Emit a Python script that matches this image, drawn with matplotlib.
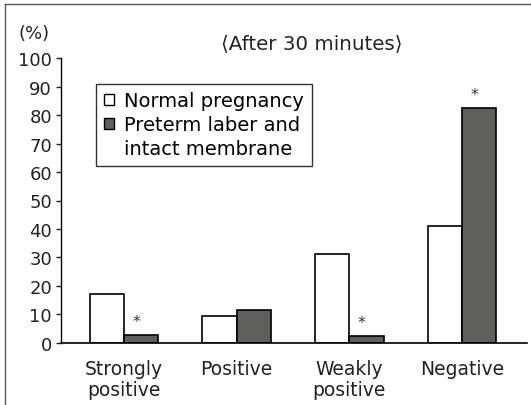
import matplotlib
matplotlib.use("Agg")
import matplotlib.pyplot as plt
from matplotlib.patches import Patch
from matplotlib.lines import Line2D
import numpy as np

categories = ["Strongly\npositive", "Positive", "Weakly\npositive", "Negative"]
normal = [17.0, 9.5, 31.3, 41.2]
preterm = [2.6, 11.5, 2.3, 82.5]
significant = [True, False, True, True]
series_labels = ["Normal pregnancy", "Preterm laber and", "intact membrane"]
yticks = [0, 10, 20, 30, 40, 50, 60, 70, 80, 90, 100]

plt.rcParams['font.family'] = ['DejaVu Sans', 'Noto Sans CJK SC']
FS = 13
dark = "#5f605d"

fig = plt.figure(figsize=(5.31, 4.06), dpi=100)
L, R = 61/531, 527/531
B, T = 1 - 343.7/406, 1 - 59.3/406
ax = fig.add_axes([L, B, R - L, T - B])

x = np.arange(len(categories))
w = 0.304
ax.bar(x - w/2, normal, width=w, color="white", edgecolor="black", linewidth=1.2)
ax.bar(x + w/2, preterm, width=w, color=dark, edgecolor="black", linewidth=1.2)

for xi, v, s in zip(x, preterm, significant):
    if s:
        ax.text(xi + w/2 - 0.04, v + 4.8, "*", ha="center", va="center", fontsize=11.5, color="#333333")

ax.set_xlim(-0.559, 3.576)
ax.set_ylim(0, 100)
ax.set_yticks(yticks)
ax.set_yticklabels([str(t) for t in yticks], fontsize=FS)
ax.set_xticks(x)
ax.set_xticklabels(categories, fontsize=13.5, linespacing=1.1, color="#222222")
ax.tick_params(axis="x", length=0, pad=12)
ax.tick_params(axis="y", length=3.5, width=1.0, pad=3, direction="out", colors="#222222")
for side in ["top", "right"]:
    ax.spines[side].set_visible(False)
ax.spines["left"].set_linewidth(1.0)
ax.spines["bottom"].set_linewidth(1.2)

ax.text((312 - 61)/466, (343.7 - 43.3)/284.4, "⟨After 30 minutes⟩", transform=ax.transAxes,
        ha="center", va="center", fontsize=14.3, color="#222222")
ax.text((34 - 61)/466, (343.7 - 34)/284.4, "(%)", transform=ax.transAxes,
        ha="center", va="center", fontsize=FS, color="#222222")

handles = [Patch(facecolor="white", edgecolor="black", linewidth=1.0),
           Patch(facecolor=dark, edgecolor="black", linewidth=1.0),
           Patch(facecolor="none", edgecolor="none")]
leg = ax.legend(handles, series_labels, loc="upper left",
                bbox_to_anchor=((95.8 - 61)/466, (343.7 - 84.7)/284.4),
                borderaxespad=0, fontsize=14, frameon=True, fancybox=False,
                edgecolor="black", handlelength=0.55, handleheight=0.55,
                handletextpad=0.5, labelspacing=0.25, borderpad=0.4)
leg.get_frame().set_linewidth(1.0)

fig.add_artist(Line2D([5/531, 5/531], [0, 1 - 5/406], transform=fig.transFigure, color="#555555", linewidth=1))
fig.add_artist(Line2D([5/531, 1], [1 - 5/406, 1 - 5/406], transform=fig.transFigure, color="#555555", linewidth=1))

fig.savefig("out.png", dpi=100)
